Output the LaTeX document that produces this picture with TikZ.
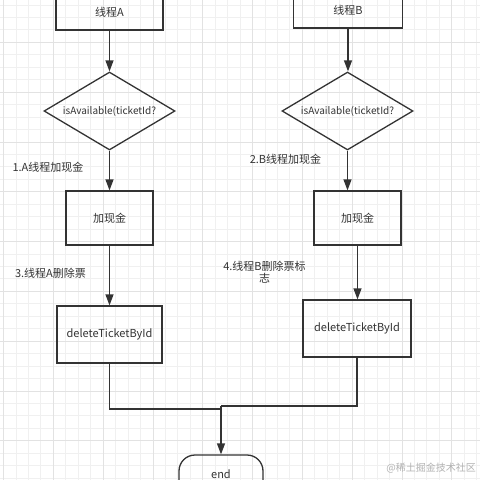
\documentclass[tikz,border=0pt]{standalone}
\usepackage{fontspec}
\setmainfont{Noto Sans CJK SC}
\usetikzlibrary{arrows.meta, shapes.geometric}
\definecolor{ink}{HTML}{333333}
\definecolor{minorgrid}{HTML}{F0F0F0}
\definecolor{majorgrid}{HTML}{E2E2E2}
\tikzset{
box/.style={draw=ink, line width=1.3pt, rectangle, inner sep=0pt,
  text=ink, font=\fontsize{11}{14}\selectfont},
test/.style={draw=ink, line width=1.3pt, diamond, inner sep=0pt,
  text=ink, font=\fontsize{10}{12}\selectfont},
terminal/.style={draw=ink, line width=1.3pt, rectangle, rounded corners=16pt,
  inner sep=0pt, text=ink, font=\fontsize{11}{14}\selectfont},
note/.style={text=ink, font=\fontsize{11}{12.5}\selectfont, inner sep=0pt},
flow/.style={draw=ink, line width=1.3pt, -{Triangle[length=11pt, width=8pt]}},
wire/.style={draw=ink, line width=1.3pt}
}

\begin{document}
\begin{tikzpicture}[x=1pt, y=-1pt]
\useasboundingbox (0,0) rectangle (480,480);
\fill[white] (0,0) rectangle (480,480);
\foreach \i in {0,...,39} {
  \draw[minorgrid, line width=0.8pt] (3.5+12.45*\i,0) -- (3.5+12.45*\i,480);
  \draw[minorgrid, line width=0.8pt] (0,4.95+12.45*\i) -- (480,4.95+12.45*\i);
}
\foreach \i in {0,...,9} {
  \draw[majorgrid, line width=0.8pt] (3.5+49.8*\i,0) -- (3.5+49.8*\i,480);
  \draw[majorgrid, line width=0.8pt] (0,42.3+49.8*\i) -- (480,42.3+49.8*\i);
}

\node[box, minimum width=107pt, minimum height=36pt] (tA) at (109.5,12) {线程A};
\node[test, minimum width=131pt, minimum height=78pt] (dA) at (109.5,111)
  {\makebox[0pt]{isAvailable(ticketId?}};
\node[box, minimum width=87pt, minimum height=54pt] (cA) at (109.5,218) {加现金};
\node[box, minimum width=105pt, minimum height=57pt] (xA) at (109.5,334.5) {deleteTicketById};

\node[box, minimum width=109pt, minimum height=36pt] (tB) at (348,10) {线程B};
\node[test, minimum width=131pt, minimum height=78pt] (dB) at (347.5,111)
  {\makebox[0pt]{isAvailable(ticketId?}};
\node[box, minimum width=87pt, minimum height=54pt] (cB) at (357.5,218) {加现金};
\node[box, minimum width=108pt, minimum height=57pt] (xB) at (357,328.5) {deleteTicketById};

\node[terminal, minimum width=84pt, minimum height=50pt] (end) at (221,480) {\raisebox{12pt}{end}};

\node[note] (lA1) at (48,167) {1.A线程加现金};
\node[note] (lA3) at (50.5,273) {3.线程A删除票};
\node[note] (lB2) at (285.5,159) {2.B线程加现金};
\node[note, align=center] (lB4) at (264.5,272) {4.线程B删除票标\\志};
\node[text=black!30, font=\fontsize{10}{12}\selectfont, inner sep=0pt, anchor=east]
  (mark) at (476,468) {@稀土掘金技术社区};

\coordinate (jA) at (221,409);
\coordinate (jB) at (221,406);

\draw[flow] (tA) -- (dA);
\draw[flow] (dA) -- (cA);
\draw[flow] (cA) -- (xA);
\draw[flow] (tB.south) -- (tB.south |- dB.north);
\draw[flow] (dB.south) -- (dB.south |- cB.north);
\draw[flow] (cB.south) -- (cB.south |- xB.north);
\draw[wire] (xA.south) -- (xA.south |- jA) -- (jA);
\draw[wire] (xB.south) -- (xB.south |- jB) -- (jB);
\draw[flow] (jB) -- (end.north);
\end{tikzpicture}
\end{document}
